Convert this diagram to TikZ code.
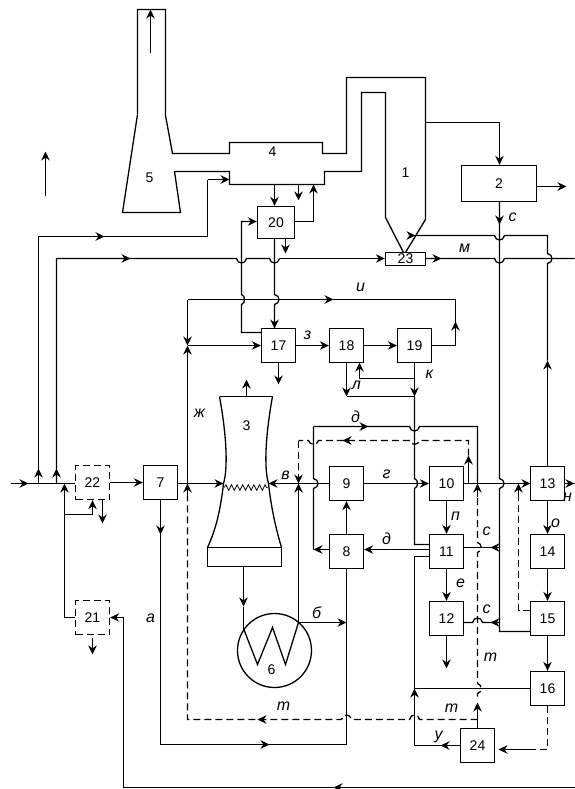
\documentclass[tikz,border=0pt]{standalone}
\usepackage{fontspec}
\setmainfont{Liberation Sans}
\usetikzlibrary{arrows.meta, decorations.pathmorphing}

\newcommand{\flowtip}[3]{\draw[<-] (#1) -- ++(#2,#3);}
\newcommand{\hopx}[4]{-- ({#1-5*#3},#2) .. controls ({#1-4*#3},{#2+#4}) and ({#1+4*#3},{#2+#4}) .. ({#1+5*#3},#2)}
\newcommand{\hopy}[4]{-- (#1,{#2-5*#3}) .. controls ({#1+#4},{#2-4*#3}) and ({#1+#4},{#2+4*#3}) .. (#1,{#2+5*#3})}

\tikzset{
  blk/.style={draw, minimum width=34pt, minimum height=34pt, inner sep=0pt, font=\fontsize{14}{14}\selectfont},
  dblk/.style={blk, dline},
  dline/.style={dash pattern=on 7pt off 4pt},
  lbl/.style={font=\fontsize{16}{16}\selectfont\itshape, inner sep=0pt},
  num/.style={font=\fontsize{14}{14}\selectfont, inner sep=0pt},
}

\begin{document}
\begin{tikzpicture}[
  >={Stealth[length=9pt,width=8.5pt]},
  x=1pt, y=-1pt,
  line width=1.3pt,
]
\useasboundingbox (0,0) rectangle (574,789);
\begin{scope}[shift={(0.5,0.5)}]

% --- Stack, duct and furnace ---
\draw (137,114) -- (137,9) -- (165,9) -- (165,115) -- (172,153) -- (229,153) -- (229,142)
  -- (322,142) -- (322,153) -- (346,153) -- (346,77) -- (425,77) -- (425,219) -- (405,252);
\draw (403,252) -- (385,217) -- (385,92) -- (361,92) -- (361,171) -- (324,171) -- (324,184)
  -- (229,184) -- (229,171) -- (174,171) -- (180,212) -- (122,212) -- (137,114);
\draw[->] (150,53) -- (150,9);
\draw[->] (45,195) -- (45,151);

% --- Cooling tower ---
\draw (219,396) -- (272,396);
\draw (219,396) .. controls (227,440) and (227,470) .. (223,483) .. controls (220,510) and (215,530) .. (207,547);
\draw (272,396) .. controls (264,440) and (264,470) .. (268,483) .. controls (271,510) and (276,530) .. (281,547);
\draw (207,547) rectangle (281,566);
\draw[line width=0.8pt, decorate, decoration={zigzag, segment length=5.6pt, amplitude=2.8pt}] (224,487) -- (267,487);
\draw[->] (246,396) -- (246,379);

% --- Condenser ---
\node[draw, circle, minimum size=74pt, inner sep=0pt] (cond) at (274,650) {};
\draw (243,628) -- (257,664) -- (272,627) -- (285,664) -- (298,622);

% --- Blocks ---
\foreach \name/\x/\y in {7/160/482, 17/278/345, 18/346/345, 19/414/345, 9/346/483, 10/446/483,
  8/346/551, 11/446/551, 12/446/618, 13/547/483, 14/547/551, 15/547/618, 16/547/688, 24/477/745} {
  \node[blk] (b\name) at (\x,\y) {\name};
}
\node[dblk] (b22) at (92,482) {22};
\node[dblk] (b21) at (92,617) {21};
\node[blk, minimum width=37pt, minimum height=32pt] (b20) at (275.5,222) {20};
\node[blk, minimum width=75pt, minimum height=36pt] (b2) at (498.5,183) {2};
\node[blk, minimum width=40pt, minimum height=13pt] (b23) at (405,258.5) {23};

\foreach \name/\x/\y in {1/405/172, 3/246/425, 4/272/151, 5/149/177, 6/271/669} {
  \node[num] (n\name) at (\x,\y) {\name};
}

% --- Inlet line and branches ---
\draw (10,483) -- (b22.west |- 0,483);
\flowtip{28,483}{-4}{0}
\draw[->] (b22) -- (b7);
\draw[->] (b7.east |- 0,483) -- (223,483);
\draw (38,483) -- (38,236) -- (207,236) -- (207,179);
\flowtip{38,468}{0}{4}
\flowtip{104,236}{-4}{0}
\draw[->] (207,179) -- (229,179);
\draw (56,483) -- (56,258) \hopx{241}{258}{1}{6} \hopx{274}{258}{1}{6};
\flowtip{56,468}{0}{4}
\flowtip{130,258}{-4}{0}
\draw[->] (279,258) -- (b23.west |- 0,258);
\draw (b23.east |- 0,258) -- (440,258) \hopx{499}{258}{1}{6} -- (574,258);
\flowtip{441,258}{-4}{0}

% --- Blocks 21 and 22 ---
\draw[->] (b21.west) -- (64,617) -- (64,483);
\draw[->] (64,514) -- (92,514) -- (b22.south);
\draw[->] (102,499) -- (102,523);
\draw[->] (92,637) -- (92,654);
\draw[<-] (b21.east) -- (123,617) -- (123,787) -- (574,787);
\flowtip{333,787}{4}{0}

% --- Block 7 to block 8 ---
\draw (b7.south) -- (160,744) -- (346,744) -- (b8.south);
\flowtip{160,534}{0}{-4}
\flowtip{269,744}{-4}{0}

% --- Duct outlets and block 20 ---
\draw[->] (274,184) -- (b20.north -| 274,206);
\draw[->] (298,184) -- (298,200);
\draw[->] (b20.east |- 0,221) -- (313,221) -- (313,184);
\draw[->] (285,238) -- (285,253);
\draw[->] (261,332) -- (241,332) \hopy{241}{299}{-1}{4} -- (241,221) -- (b20.west |- 0,221);
\draw (274,238) \hopy{274}{299}{1}{6} -- (274,328);
\flowtip{274,328}{0}{-4}

% --- Boiler outlet and block 2 ---
\draw[->] (425,122) -- (499,122) -- (b2.north -| 499,165);
\draw[->] (b2.east |- 0,186) -- (566,186);
\draw (499,201) \hopy{499}{483}{1}{6} -- (499,631) -- (b15.west |- 0,631);
\flowtip{499,224}{0}{-4}
\draw[->] (b13.north) -- (547,360);
\draw (547,360) \hopy{547}{258}{-1}{6} -- (547,235) \hopx{499}{235}{-1}{6} -- (415,235);
\flowtip{415,235}{-4}{0}

% --- Blocks 17, 18, 19 ---
\draw[->] (b17) -- (b18);
\draw[->] (b18) -- (b19);
\draw[->] (187,345) -- (b17.west);
\draw (b17.south) -- (278,362);
\draw[->] (278,362) -- (278,384);
\draw[->] (b19.east) -- (455,345) -- (455,321);
\draw (455,321) -- (455,299) -- (187,299);
\flowtip{333,299}{-4}{0}
\draw[->] (187,299) -- (187,345);
\draw[->] (187,483) -- (187,345);
\draw (b19.south) -- (414,396);
\draw[->] (414,378) -- (359,378) -- (359,362);
\draw[->] (b18.south) -- (346,396);
\draw (346,396) -- (414,396);
\flowtip{414,396}{0}{-4}
\draw (414,396) \hopy{414}{483}{1}{4} -- (414,544) -- (429,544);
\draw (429,556) -- (414,556) -- (414,745);
\draw[->] (414,745) -- (414,688);

% --- Tower inlet, condenser, blocks 8 and 9 ---
\draw[->] (243,566) -- (243,606);
\draw (243,606) -- (243,628);
\draw[->] (298,622) -- (298,483);
\draw[->] (298,622) -- (346,622);
\draw[->] (b9.west) -- (268,483);
\draw[->] (b8) -- (b9);
\draw[->] (b11.west |- 0,549) -- (b8.east |- 0,549);
\draw[->] (b8.west |- 0,549) -- (313,549);
\draw (313,549) \hopy{313}{483}{-1}{6} -- (313,426);
\draw (313,426) \hopx{414}{426}{1}{6} -- (477,426) -- (477,483);
\flowtip{368,426}{-4}{0}
\draw[->] (b9) -- (b10);

% --- Blocks 10 to 16 and 24 ---
\draw (b10.east) -- (b13.west);
\flowtip{530,483}{-4}{0}
\draw[->] (468,483) -- (468,455);
\draw[->] (b10) -- (b11);
\draw[->] (b11) -- (b12);
\draw[->] (b12.south) -- (446,668);
\draw[->] (b13) -- (b14);
\draw[->] (b14) -- (b15);
\draw[->] (b15) -- (b16);
\draw (b13.east) -- (574,483);
\flowtip{574,483}{-4}{0}
\draw (b11.east |- 0,547) -- (499,547);
\flowtip{490,547}{4}{0}
\draw (499,622) -- (490,622) \hopx{477}{622}{-1}{-6} -- (b12.east |- 0,622);
\flowtip{490,622}{4}{0}
\draw (b16.west) -- (414,688);
\draw[->] (b24.west) -- (440,745);
\draw (440,745) -- (414,745);
\draw[->] (b24.north) -- (477,702);
\draw[->] (533,749) -- (498,749);

% --- Dashed control lines ---
\draw[dline] (468,455) -- (468,440) \hopx{414}{440}{-1}{5} \hopx{313}{440}{-1}{5} -- (298,440);
\draw[dline, ->] (298,440) -- (298,483);
\flowtip{342,440}{4}{0}
\draw[dline] (b16.south) -- (547,749) -- (533,749);
\draw[dline] (477,696) \hopy{477}{688}{-1}{5} \hopy{477}{622}{-1}{0} \hopy{477}{547}{-1}{5} -- (477,495);
\flowtip{477,483}{0}{13}
\draw[dline] (477,719) \hopx{414}{719}{-1}{-6} \hopx{346}{719}{-1}{-6} -- (187,719) -- (187,495);
\flowtip{187,483}{0}{13}
\flowtip{257,719}{4}{0}
\draw[dline] (b15.west |- 0,610) -- (518,610) -- (518,495);
\flowtip{518,483}{0}{13}

% --- Labels ---
\foreach \name/\x/\y/\txt in {c1/512/217/с, m1/464/248/м, i/360/287/и, z/307/335/з, l/356/385/л, k/429/374/к,
  zh/199/413/ж, d1/355/416/д, v/285/475/в, g/386/474/г, d2/386/538/д, p2/455/516/п, c2/486/531/с,
  e/460/583/е, c3/486/609/с, o/555/523/о, t1/490/657/т, t2/283/706/т, t3/451/708/т, u/438/736/у,
  a/150/618/а, b/316/612/б, n/567/497/н} {
  \node[lbl] (l\name) at (\x,\y) {\txt};
}

\end{scope}
\end{tikzpicture}
\end{document}
